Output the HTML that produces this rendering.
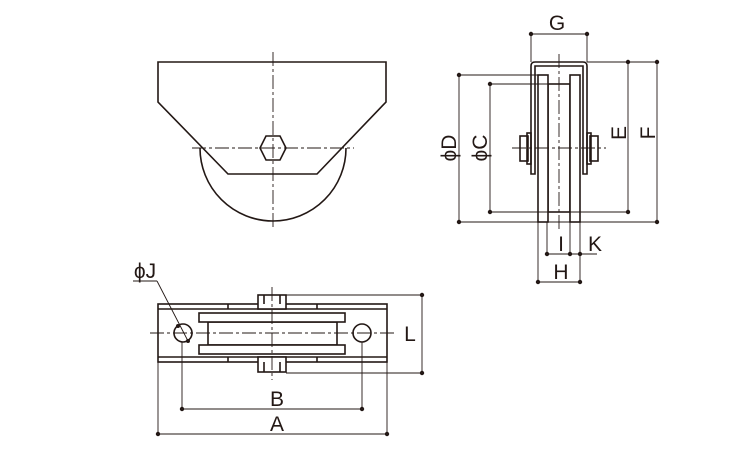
<!DOCTYPE html>
<html><head><meta charset="utf-8"><style>
html,body{margin:0;padding:0;background:#fff;}
svg{display:block;}
text{font-family:"Liberation Sans",Arial,sans-serif;font-size:21px;fill:#231815;}
</style></head><body>
<svg width="750" height="450" viewBox="0 0 750 450" xmlns="http://www.w3.org/2000/svg">
<g fill="none" stroke="#231815" stroke-width="1.6">
<path d="M158 62 H386 V102 L317 174 H228 L158 102 Z" fill="#fff"/>
<path d="M200 148 A73 73 0 0 0 346 148"/>
<path d="M266 136 H280 L286 148 L280 160 H266 L260 148 Z" fill="#fff"/>
</g>
<g fill="none" stroke="#231815" stroke-width="0.9" stroke-dasharray="14 3 3 3">
<line x1="273" y1="52" x2="273" y2="230"/>
<line x1="192" y1="148" x2="354" y2="148"/>
</g>
<g fill="none" stroke="#231815" stroke-width="1.6">
<path d="M531 174 V66 Q531 62 535 62 H583 Q587 62 587 66 V174 H583 V66 H535 V174 Z" fill="#fff"/>
<rect x="548" y="84" width="22" height="128" fill="#fff"/>
<rect x="538" y="75" width="10" height="147" fill="#fff"/>
<rect x="570" y="75" width="10" height="147" fill="#fff"/>
<rect x="520" y="136" width="8" height="25"/>
<rect x="527" y="133" width="4" height="31"/>
<rect x="590" y="136" width="8" height="25"/>
<rect x="587" y="133" width="4" height="31"/>
</g>
<g fill="none" stroke="#231815" stroke-width="0.9" stroke-dasharray="14 3 3 3">
<line x1="559" y1="54" x2="559" y2="232"/>
<line x1="512" y1="148" x2="606" y2="148"/>
</g>
<g fill="none" stroke="#231815" stroke-width="0.9">
<line x1="531" y1="34" x2="587" y2="34"/>
<line x1="531" y1="34" x2="531" y2="62"/><line x1="587" y1="34" x2="587" y2="62"/>
<line x1="587" y1="62" x2="657" y2="62"/>
<line x1="459" y1="75" x2="538" y2="75"/>
<line x1="490" y1="84" x2="548" y2="84"/>
<line x1="490" y1="212" x2="628" y2="212"/>
<line x1="459" y1="222" x2="657" y2="222"/>
<line x1="459" y1="75" x2="459" y2="222"/>
<line x1="490" y1="84" x2="490" y2="212"/>
<line x1="628" y1="62" x2="628" y2="212"/>
<line x1="657" y1="62" x2="657" y2="222"/>
<line x1="538" y1="222" x2="538" y2="282"/>
<line x1="547" y1="222" x2="547" y2="254"/>
<line x1="570" y1="222" x2="570" y2="254"/>
<line x1="580" y1="222" x2="580" y2="282"/>
<line x1="547" y1="254" x2="597" y2="254"/>
<line x1="538" y1="282" x2="580" y2="282"/>
</g>
<g fill="#231815">
<circle cx="531" cy="34" r="2.2"/><circle cx="587" cy="34" r="2.2"/>
<circle cx="459" cy="75" r="2.2"/><circle cx="459" cy="222" r="2.2"/>
<circle cx="490" cy="84" r="2.2"/><circle cx="490" cy="212" r="2.2"/>
<circle cx="628" cy="62" r="2.2"/><circle cx="628" cy="212" r="2.2"/>
<circle cx="657" cy="62" r="2.2"/><circle cx="657" cy="222" r="2.2"/>
<circle cx="547" cy="254" r="2.2"/><circle cx="570" cy="254" r="2.2"/><circle cx="580" cy="254" r="2.2"/>
<circle cx="538" cy="282" r="2.2"/><circle cx="580" cy="282" r="2.2"/>
</g>
<text x="557" y="30" text-anchor="middle">G</text>
<text x="561" y="251" text-anchor="middle">I</text>
<text x="595" y="251" text-anchor="middle">K</text>
<text x="561" y="279" text-anchor="middle">H</text>
<text transform="translate(456,148) rotate(-90)" text-anchor="middle">ϕD</text>
<text transform="translate(487,148) rotate(-90)" text-anchor="middle">ϕC</text>
<text transform="translate(626,133) rotate(-90)" text-anchor="middle">E</text>
<text transform="translate(655,133) rotate(-90)" text-anchor="middle">F</text>
<g fill="none" stroke="#231815" stroke-width="1.6">
<rect x="158" y="304" width="229" height="58" fill="#fff"/>
<line x1="158" y1="309" x2="387" y2="309"/>
<line x1="158" y1="357" x2="387" y2="357"/>
<line x1="228" y1="304" x2="228" y2="309"/><line x1="317" y1="304" x2="317" y2="309"/>
<line x1="228" y1="357" x2="228" y2="362"/><line x1="317" y1="357" x2="317" y2="362"/>
<rect x="208" y="322" width="129" height="23"/>
<rect x="199" y="313" width="146" height="9" fill="#fff"/>
<rect x="199" y="345" width="146" height="9" fill="#fff"/>
<rect x="258" y="295" width="28" height="14" fill="#fff"/>
<line x1="264" y1="295" x2="264" y2="304"/><line x1="280" y1="295" x2="280" y2="304"/>
<rect x="258" y="357" width="28" height="15" fill="#fff"/>
<line x1="264" y1="362" x2="264" y2="372"/><line x1="280" y1="362" x2="280" y2="372"/>
<circle cx="183" cy="333" r="9" fill="#fff"/>
<circle cx="362" cy="333" r="9" fill="#fff"/>
</g>
<g fill="none" stroke="#231815" stroke-width="0.9" stroke-dasharray="14 3 3 3">
<line x1="150" y1="333" x2="395" y2="333"/>
<line x1="272" y1="287" x2="272" y2="380"/>
</g>
<g fill="none" stroke="#231815" stroke-width="0.9">
<line x1="286" y1="295" x2="422" y2="295"/>
<line x1="286" y1="373" x2="422" y2="373"/>
<line x1="422" y1="295" x2="422" y2="373"/>
<line x1="158" y1="362" x2="158" y2="434"/>
<line x1="387" y1="362" x2="387" y2="434"/>
<line x1="182" y1="342" x2="182" y2="409"/>
<line x1="362" y1="342" x2="362" y2="409"/>
<line x1="182" y1="409" x2="362" y2="409"/>
<line x1="158" y1="434" x2="387" y2="434"/>
<line x1="133" y1="281" x2="157" y2="281"/>
<line x1="157" y1="281" x2="188" y2="341"/>
</g>
<g fill="#231815">
<circle cx="422" cy="295" r="2.2"/><circle cx="422" cy="373" r="2.2"/>
<circle cx="182" cy="409" r="2.2"/><circle cx="362" cy="409" r="2.2"/>
<circle cx="158" cy="434" r="2.2"/><circle cx="387" cy="434" r="2.2"/>
<circle cx="178" cy="326" r="2"/><circle cx="188" cy="341" r="2"/>
</g>
<text x="145" y="278" text-anchor="middle">ϕJ</text>
<text x="410" y="341" text-anchor="middle">L</text>
<text x="277" y="406" text-anchor="middle">B</text>
<text x="277" y="431" text-anchor="middle">A</text>
</svg>
</body></html>
